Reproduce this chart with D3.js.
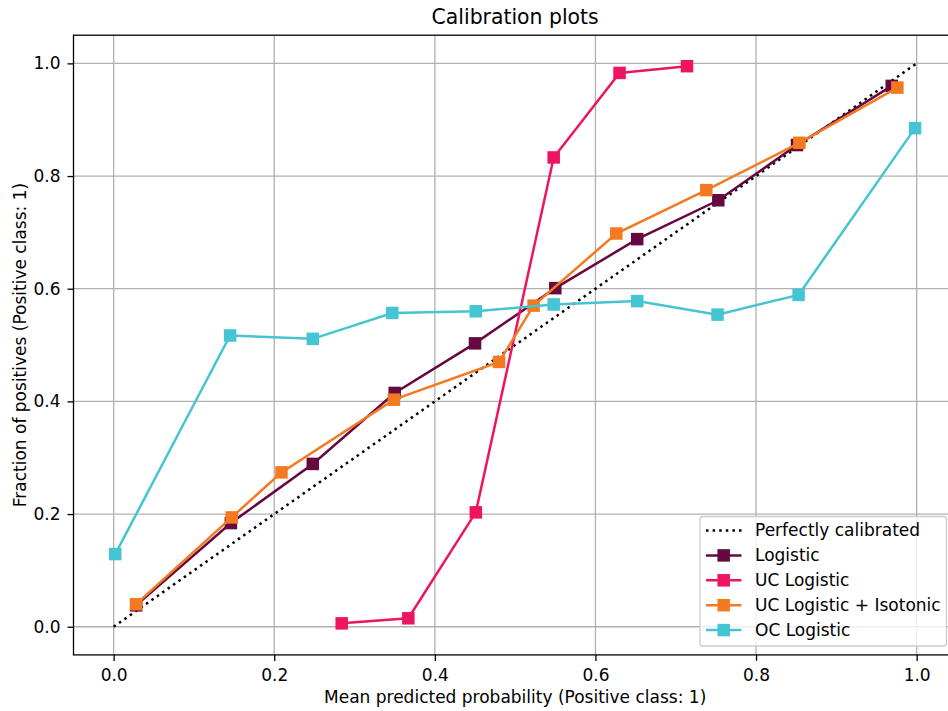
<!DOCTYPE html>
<html>
<head>
<meta charset="utf-8">
<script src="https://cdn.jsdelivr.net/npm/d3@7"></script>
<style>
  html, body { margin: 0; padding: 0; background: #fff; }
  svg { display: block; font-family: "DejaVu Sans", sans-serif; }
</style>
</head>
<body>
<svg id="chart" width="948" height="711"></svg>
<script>
// Calibration curves: mean predicted probability vs fraction of positives
const seriesNames = ["Logistic", "UC Logistic", "UC Logistic + Isotonic", "OC Logistic"];
const seriesColors = ["#660841", "#ee1560", "#f47a22", "#45c4d3"];

const logisticX = [0.028, 0.146, 0.248, 0.350, 0.450, 0.550, 0.652, 0.753, 0.851, 0.969];
const logisticY = [0.038, 0.184, 0.289, 0.415, 0.503, 0.601, 0.688, 0.757, 0.855, 0.960];

const ucLogisticX = [0.284, 0.367, 0.451, 0.548, 0.630, 0.714];
const ucLogisticY = [0.006, 0.015, 0.203, 0.833, 0.983, 0.995];

const isotonicX = [0.028, 0.147, 0.209, 0.349, 0.480, 0.523, 0.626, 0.738, 0.854, 0.976];
const isotonicY = [0.040, 0.194, 0.274, 0.403, 0.470, 0.570, 0.698, 0.775, 0.859, 0.957];

const ocLogisticX = [0.002, 0.145, 0.248, 0.347, 0.451, 0.548, 0.652, 0.752, 0.853, 0.998];
const ocLogisticY = [0.129, 0.517, 0.511, 0.557, 0.560, 0.572, 0.578, 0.554, 0.589, 0.885];

const tickValues = [0.0, 0.2, 0.4, 0.6, 0.8, 1.0];
const diagonal = [0, 1];

const series = [
  { name: seriesNames[0], color: seriesColors[0], xs: logisticX, ys: logisticY },
  { name: seriesNames[1], color: seriesColors[1], xs: ucLogisticX, ys: ucLogisticY },
  { name: seriesNames[2], color: seriesColors[2], xs: isotonicX, ys: isotonicY },
  { name: seriesNames[3], color: seriesColors[3], xs: ocLogisticX, ys: ocLogisticY }
];

const svg = d3.select("#chart");
const plotLeft = 73.5, plotRight = 956.8, plotTop = 35.2, plotBottom = 654.9;
const fontSize = "17px";
const lw = 2.5;
const dotDash = "2.5,4.1";

const x = d3.scaleLinear().domain([-0.05, 1.05]).range([plotLeft, plotRight]);
const y = d3.scaleLinear().domain([-0.05, 1.05]).range([plotBottom, plotTop]);

// clip to the axes area
svg.append("defs").append("clipPath").attr("id", "plotClip")
  .append("rect").attr("x", plotLeft).attr("y", plotTop)
  .attr("width", plotRight - plotLeft).attr("height", plotBottom - plotTop);

// grid
const grid = svg.append("g");
grid.selectAll(".gx").data(tickValues).join("line").attr("class", "gx")
  .attr("x1", d => x(d)).attr("x2", d => x(d))
  .attr("y1", plotTop).attr("y2", plotBottom)
  .attr("stroke", "#b0b0b0").attr("stroke-width", 1.3);
grid.selectAll(".gy").data(tickValues).join("line").attr("class", "gy")
  .attr("x1", plotLeft).attr("x2", plotRight)
  .attr("y1", d => y(d)).attr("y2", d => y(d))
  .attr("stroke", "#b0b0b0").attr("stroke-width", 1.3);

const plot = svg.append("g").attr("clip-path", "url(#plotClip)");

// perfectly calibrated reference
plot.append("line")
  .attr("x1", x(diagonal[0])).attr("y1", y(diagonal[0]))
  .attr("x2", x(diagonal[1])).attr("y2", y(diagonal[1]))
  .attr("stroke", "#000").attr("stroke-width", lw)
  .attr("stroke-dasharray", dotDash);

const line = d3.line().x(d => x(d[0])).y(d => y(d[1]));
const ms = 12.5;

series.forEach(s => {
  const pts = s.xs.map((v, i) => [v, s.ys[i]]);
  const g = plot.append("g");
  g.append("path").datum(pts).attr("d", line)
    .attr("fill", "none").attr("stroke", s.color).attr("stroke-width", lw);
  g.selectAll("rect").data(pts).join("rect")
    .attr("x", d => x(d[0]) - ms / 2).attr("y", d => y(d[1]) - ms / 2)
    .attr("width", ms).attr("height", ms)
    .attr("fill", s.color);
});

// axes
const xAxis = d3.axisBottom(x).tickValues(tickValues).tickFormat(d3.format(".1f"))
  .tickSize(6).tickPadding(8);
const yAxis = d3.axisLeft(y).tickValues(tickValues).tickFormat(d3.format(".1f"))
  .tickSize(6).tickPadding(7);

const gx = svg.append("g").attr("transform", `translate(0,${plotBottom})`).call(xAxis);
const gy = svg.append("g").attr("transform", `translate(${plotLeft},0)`).call(yAxis);
[gx, gy].forEach(g => {
  g.select(".domain").remove();
  g.selectAll(".tick line").attr("stroke", "#000").attr("stroke-width", 1.3);
  g.selectAll(".tick text").attr("fill", "#000").style("font-size", fontSize)
    .style("font-family", "DejaVu Sans, sans-serif");
});

// spines
svg.append("rect").attr("x", plotLeft).attr("y", plotTop)
  .attr("width", plotRight - plotLeft).attr("height", plotBottom - plotTop)
  .attr("fill", "none").attr("stroke", "#000").attr("stroke-width", 1.3);

// title and labels
svg.append("text").attr("x", (plotLeft + plotRight) / 2).attr("y", 24)
  .attr("text-anchor", "middle").style("font-size", "20.4px")
  .text("Calibration plots");
svg.append("text").attr("x", (plotLeft + plotRight) / 2).attr("y", 703)
  .attr("text-anchor", "middle").style("font-size", fontSize)
  .text("Mean predicted probability (Positive class: 1)");
svg.append("text")
  .attr("transform", `translate(26,${(plotTop + plotBottom) / 2}) rotate(-90)`)
  .attr("text-anchor", "middle").style("font-size", fontSize)
  .text("Fraction of positives (Positive class: 1)");

// legend
const lg = svg.append("g");
lg.append("rect").attr("x", 700).attr("y", 516.5).attr("width", 246.5).attr("height", 129.5)
  .attr("rx", 3).attr("fill", "#fff").attr("fill-opacity", 0.8)
  .attr("stroke", "#cccccc").attr("stroke-width", 1.3);

const legendItems = [{ name: "Perfectly calibrated", color: "#000", dotted: true }]
  .concat(series.map(s => ({ name: s.name, color: s.color, dotted: false })));
const rowY = i => 530.5 + i * 24.9;

legendItems.forEach((it, i) => {
  const yy = rowY(i);
  const l = lg.append("line").attr("x1", 706).attr("x2", 741.5)
    .attr("y1", yy).attr("y2", yy)
    .attr("stroke", it.color).attr("stroke-width", lw);
  if (it.dotted) {
    l.attr("stroke-dasharray", dotDash);
  } else {
    lg.append("rect").attr("x", 723.7 - ms / 2).attr("y", yy - ms / 2)
      .attr("width", ms).attr("height", ms).attr("fill", it.color);
  }
  lg.append("text").attr("x", 755).attr("y", yy).attr("dy", "0.35em")
    .style("font-size", fontSize).text(it.name);
});
</script>
</body>
</html>
